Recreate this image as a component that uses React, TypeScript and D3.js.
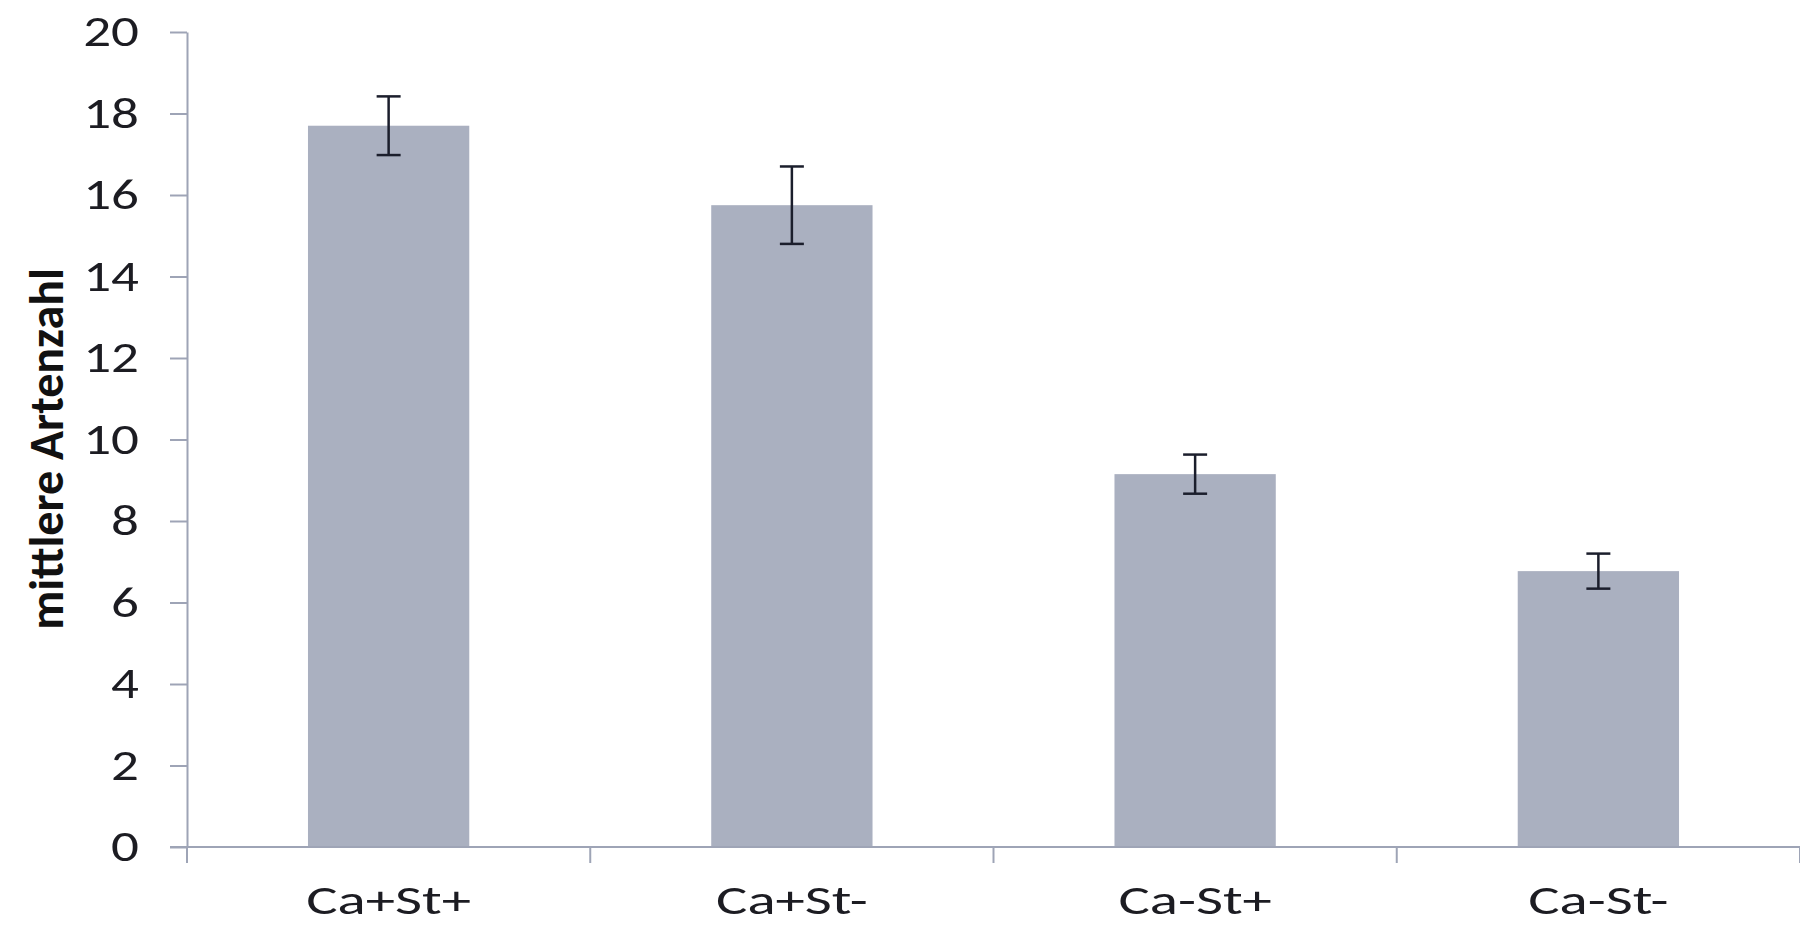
import React, { useEffect, useRef } from "react";
import * as d3 from "d3";

// values
const categories = ["Ca+St+", "Ca+St-", "Ca-St+", "Ca-St-"];
const means = [17.7, 15.75, 9.15, 6.77];
const errors = [0.72, 0.95, 0.48, 0.43];
const yTicks = [0, 2, 4, 6, 8, 10, 12, 14, 16, 18, 20];
const yTitle = "mittlere Artenzahl";

const W = 1800;
const H = 926;
const FONT = "Carlito, Calibri, Lato, sans-serif";

export default function App() {
  const ref = useRef<SVGSVGElement>(null);

  useEffect(() => {
    const svg = d3.select(ref.current);
    svg.selectAll("*").remove();

    const margin = { top: 32, right: 0, bottom: 79, left: 187 };
    const x = d3.scaleBand().domain(categories).range([margin.left, W - margin.right]).padding(0);
    const y = d3.scaleLinear().domain([0, 20]).range([H - margin.bottom, margin.top]);
    const barW = x.bandwidth() * 0.4;
    const axisColor = "#9ea4b6";

    const data = categories.map((c, i) => ({ c, v: means[i], e: errors[i] }));

    // bars
    svg.selectAll(".bar")
      .data(data)
      .join("rect")
      .attr("class", "bar")
      .attr("x", d => x(d.c)! + (x.bandwidth() - barW) / 2)
      .attr("y", d => y(d.v))
      .attr("width", barW)
      .attr("height", d => y(0) - y(d.v))
      .attr("fill", "#aab0c0");

    // y axis
    const gy = svg.append("g")
      .attr("transform", `translate(${margin.left},0)`)
      .call(d3.axisLeft(y).tickValues(yTicks).tickSize(17).tickSizeOuter(0).tickFormat(d3.format("d")));
    gy.select(".domain").attr("stroke", axisColor).attr("stroke-width", 2);
    gy.selectAll(".tick line").attr("stroke", axisColor).attr("stroke-width", 2);
    gy.selectAll(".tick text")
      .attr("x", 0)
      .attr("transform", "translate(-48,0) scale(1.28,1)")
      .attr("fill", "#1c1c22")
      .style("font-family", FONT)
      .style("font-size", "43px");

    // x axis: baseline plus ticks between categories
    const bounds = categories.map(c => x(c)!).concat([x.range()[1]]);
    svg.append("line")
      .attr("x1", margin.left - 17).attr("x2", W)
      .attr("y1", y(0)).attr("y2", y(0))
      .attr("stroke", axisColor).attr("stroke-width", 2);
    svg.selectAll(".xtick")
      .data(bounds)
      .join("line")
      .attr("class", "xtick")
      .attr("x1", d => d).attr("x2", d => d)
      .attr("y1", y(0)).attr("y2", y(0) + 16)
      .attr("stroke", axisColor).attr("stroke-width", 2);

    svg.selectAll(".xlabel")
      .data(categories)
      .join("text")
      .attr("class", "xlabel")
      .attr("transform", d => `translate(${x(d)! + x.bandwidth() / 2},${y(0) + 67}) scale(1.4,1)`)
      .attr("text-anchor", "middle")
      .attr("fill", "#1c1c22")
      .style("font-family", FONT)
      .style("font-size", "42px")
      .text(d => d);

    // error bars
    const eb = svg.selectAll(".err").data(data).join("g").attr("class", "err")
      .attr("stroke", "#1b1e2c").attr("stroke-width", 2.5);
    eb.append("line")
      .attr("x1", d => x(d.c)! + x.bandwidth() / 2).attr("x2", d => x(d.c)! + x.bandwidth() / 2)
      .attr("y1", d => y(d.v + d.e)).attr("y2", d => y(d.v - d.e));
    eb.append("line")
      .attr("x1", d => x(d.c)! + x.bandwidth() / 2 - 12).attr("x2", d => x(d.c)! + x.bandwidth() / 2 + 12)
      .attr("y1", d => y(d.v + d.e)).attr("y2", d => y(d.v + d.e));
    eb.append("line")
      .attr("x1", d => x(d.c)! + x.bandwidth() / 2 - 12).attr("x2", d => x(d.c)! + x.bandwidth() / 2 + 12)
      .attr("y1", d => y(d.v - d.e)).attr("y2", d => y(d.v - d.e));

    // y title
    svg.append("text")
      .attr("transform", `translate(63,449) rotate(-90)`)
      .attr("text-anchor", "middle")
      .attr("fill", "#111")
      .style("font-family", FONT)
      .style("font-weight", "bold")
      .style("font-size", "48px")
      .text(yTitle);
  }, []);

  return (
    <svg ref={ref} width={W} height={H}
      style={{ position: "absolute", left: 0, top: 0, background: "#fff", display: "block" }} />
  );
}
